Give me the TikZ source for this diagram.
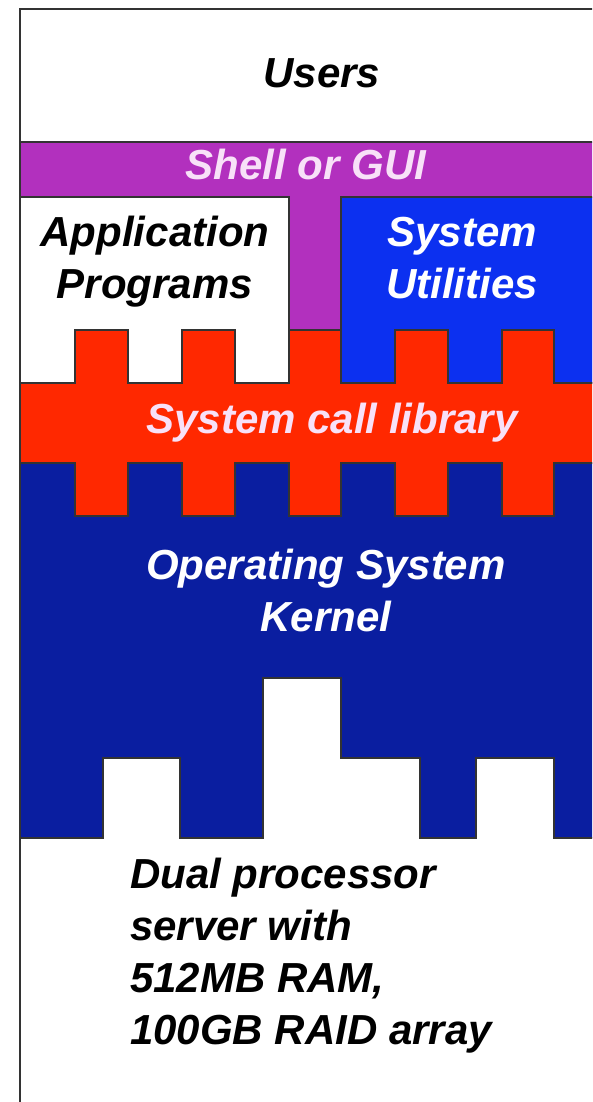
\documentclass[tikz,border=0pt]{standalone}
\usepackage{fontspec}
\setmainfont{Liberation Sans}
\definecolor{shellpurple}{RGB}{178,48,190}
\definecolor{callred}{RGB}{255,40,0}
\definecolor{utilblue}{RGB}{12,48,240}
\definecolor{kernelblue}{RGB}{10,30,160}
\definecolor{shelltext}{RGB}{248,225,248}

\begin{document}
\begin{tikzpicture}[x=1pt, y=-1pt,
  layer/.style={draw=black!80, line width=1.3pt},
  lbl/.style={font=\bfseries\itshape\fontsize{42}{52}\selectfont, align=center, inner sep=0pt}]
\useasboundingbox (0,0) rectangle (592,1102);
\clip (0,0) rectangle (592,1102);

% Layers, from top to bottom
\fill [white] (20,9) rectangle (600,1110);
\filldraw [layer, fill=shellpurple] (20,142) rectangle (600,383);
\filldraw [layer, fill=white] (20,197) rectangle (289,383);
\filldraw [layer, fill=utilblue] (341,197) rectangle (600,383);

% Kernel with the hardware notches
\filldraw [layer, fill=kernelblue] (20,463) -- (600,463) -- (600,838) -- (554,838) -- (554,758) -- (476,758) -- (476,838)
  -- (420,838) -- (420,758) -- (341,758) -- (341,678) -- (263,678) -- (263,838) -- (180,838) -- (180,758)
  -- (103,758) -- (103,838) -- (20,838) -- cycle;

% System call library with its teeth
\filldraw [layer, fill=callred] (20,383) -- (75,383) -- (75,330) -- (128,330) -- (128,383) -- (182,383) -- (182,330)
  -- (235,330) -- (235,383) -- (289,383) -- (289,330) -- (341,330) -- (341,383) -- (395,383) -- (395,330)
  -- (448,330) -- (448,383) -- (502,383) -- (502,330) -- (554,330) -- (554,383) -- (600,383)
  -- (600,463) -- (554,463) -- (554,516) -- (502,516) -- (502,463) -- (448,463) -- (448,516) -- (395,516)
  -- (395,463) -- (341,463) -- (341,516) -- (289,516) -- (289,463) -- (235,463) -- (235,516) -- (182,516)
  -- (182,463) -- (128,463) -- (128,516) -- (75,516) -- (75,463) -- (20,463) -- cycle;

% Frame
\draw [black!80, line width=1.5pt] (20,1110) -- (20,9) -- (600,9);

% Labels
\node (users) at (322,88) [lbl, anchor=base] {Users};
\node (shell) at (306,180) [lbl, anchor=base, text=shelltext] {Shell or GUI};
\node (apps) at (155,262) [lbl] {Application\\Programs};
\node (utils) at (462,258) [lbl, text=white] {System\\Utilities};
\node (syscall) at (332,433) [lbl, anchor=base, text=shelltext] {System call library};
\node (kernel) at (326,590) [lbl, text=white] {Operating System\\Kernel};
\node (hardware) at (130,956) [lbl, anchor=west, align=left] {Dual processor\\server with\\512MB RAM,\\100GB RAID array};
\end{tikzpicture}
\end{document}
